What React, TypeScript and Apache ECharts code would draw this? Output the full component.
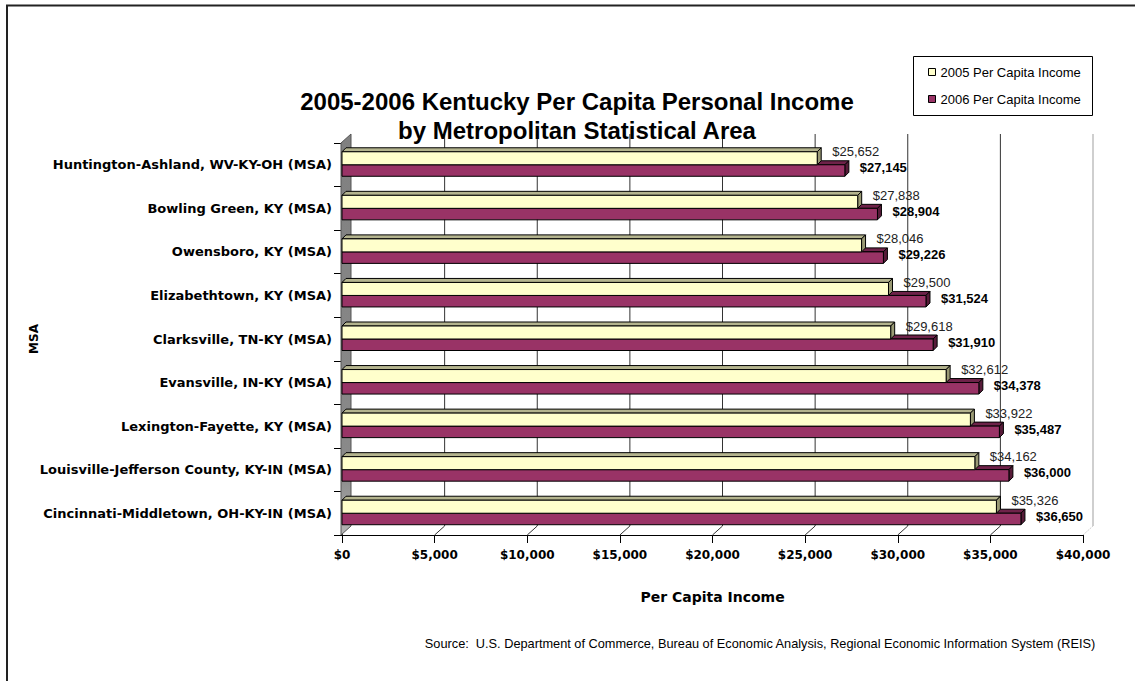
import React, { useEffect, useRef } from "react";
import * as echarts from "echarts";

const categories = [
  "Huntington-Ashland, WV-KY-OH (MSA)",
  "Bowling Green, KY (MSA)",
  "Owensboro, KY (MSA)",
  "Elizabethtown, KY (MSA)",
  "Clarksville, TN-KY (MSA)",
  "Evansville, IN-KY (MSA)",
  "Lexington-Fayette, KY (MSA)",
  "Louisville-Jefferson County, KY-IN (MSA)",
  "Cincinnati-Middletown, OH-KY-IN (MSA)",
];
const income2005 = [25652, 27838, 28046, 29500, 29618, 32612, 33922, 34162, 35326];
const income2006 = [27145, 28904, 29226, 31524, 31910, 34378, 35487, 36000, 36650];
const tickValues = [0, 5000, 10000, 15000, 20000, 25000, 30000, 35000, 40000];

const SERIES_2005 = "2005 Per Capita Income";
const SERIES_2006 = "2006 Per Capita Income";
const TITLE_1 = "2005-2006 Kentucky Per Capita Personal Income";
const TITLE_2 = "by Metropolitan Statistical Area";
const SOURCE =
  "Source:  U.S. Department of Commerce, Bureau of Economic Analysis, Regional Economic Information System (REIS)";

const ARIAL = 'Arial, "Liberation Sans", sans-serif';
const DEJAVU = '"DejaVu Sans", sans-serif';

const DX = 10; // depth of the walls
const DY = 9;
const BD = 4; // depth of bars

const money = (v: number) => "$" + Number(v).toLocaleString("en-US");

function backgroundRender(params: any, api: any) {
  const cs = params.coordSys;
  const T = cs.y;
  const B = cs.y + cs.height;
  const v = api.value(0);
  const x = api.coord([v, 0])[0];
  const children: any[] = [];
  const isLast = v === tickValues[tickValues.length - 1];
  if (v === 0) {
    children.push({
      type: "polygon",
      shape: { points: [[x - 1, T], [x - 1 + DX, T - DY], [x - 1 + DX, B - DY], [x - 1, B]] },
      style: {
        fill: new echarts.graphic.LinearGradient(0, 0, 0, 1, [
          { offset: 0, color: "#808080" },
          { offset: 0.85, color: "#8a8a8a" },
          { offset: 1, color: "#b5b5b5" },
        ]),
        stroke: "#555",
        lineWidth: 1,
      },
    });
  } else {
    children.push({
      type: "line",
      shape: { x1: x + DX, y1: T - DY, x2: x + DX, y2: B - DY },
      style: { stroke: isLast ? "#cfcfcf" : "#333", lineWidth: isLast ? 2 : 1 },
    });
    children.push({
      type: "line",
      shape: { x1: x, y1: B, x2: x + DX, y2: B - DY },
      style: {
        stroke: isLast ? "#cfcfcf" : "#333",
        lineWidth: 1,
        lineDash: isLast ? [2, 1] : null,
      },
    });
  }
  return { type: "group", children };
}

function makeBarRender(is2005: boolean) {
  return (params: any, api: any) => {
    const idx = api.value(1);
    const v = api.value(0);
    const end = api.coord([v, idx]);
    const start = api.coord([0, idx]);
    const c = end[1];
    const x0 = start[0];
    const x1 = end[0];
    const top = is2005 ? c - 13 : c;
    const h = is2005 ? 13 : 11.5;
    const bottom = top + h;
    const front = is2005 ? "#FFFFCC" : "#993366";
    const topFace = is2005 ? "#B4B48E" : "#6E2249";
    const sideFace = is2005 ? "#9A9A74" : "#571B39";
    const stroke = { stroke: "#000", lineWidth: 1 };
    return {
      type: "group",
      children: [
        {
          type: "polygon",
          shape: { points: [[x0, top], [x0 + BD, top - BD], [x1 + BD, top - BD], [x1, top]] },
          style: { fill: topFace, ...stroke },
        },
        {
          type: "polygon",
          shape: { points: [[x1, top], [x1 + BD, top - BD], [x1 + BD, bottom - BD], [x1, bottom]] },
          style: { fill: sideFace, ...stroke },
        },
        {
          type: "rect",
          shape: { x: x0, y: top, width: x1 - x0, height: h },
          style: { fill: front, ...stroke },
        },
        {
          type: "text",
          style: {
            text: money(v),
            x: x1 + 15,
            y: is2005 ? c - 13 : c + 3,
            fill: is2005 ? "#222" : "#000",
            fontSize: 13,
            fontFamily: ARIAL,
            fontWeight: is2005 ? "normal" : "bold",
            align: "left",
            textAlign: "left",
            verticalAlign: "middle",
            textVerticalAlign: "middle",
          },
        },
      ],
    };
  };
}

export default function App() {
  const ref = useRef<HTMLDivElement>(null);
  useEffect(() => {
    if (!ref.current) return;
    const chart = echarts.init(ref.current, undefined, { renderer: "svg" });
    const option: any = {
      animation: false,
      backgroundColor: "#fff",
      grid: { left: 342, right: 52, top: 143, bottom: 146, containLabel: false },
      xAxis: {
        type: "value",
        min: 0,
        max: 40000,
        interval: 5000,
        axisLine: { show: true, lineStyle: { color: "#000", width: 1 } },
        axisTick: { show: true, length: 8, lineStyle: { color: "#000" } },
        splitLine: { show: false },
        axisLabel: {
          margin: 14,
          formatter: (v: number) => money(v),
          color: "#000",
          fontFamily: DEJAVU,
          fontWeight: "bold",
          fontSize: 12,
        },
        name: "Per Capita Income",
        nameLocation: "middle",
        nameGap: 55,
        nameMoveOverlap: false,
        nameTextStyle: { color: "#000", fontFamily: DEJAVU, fontWeight: "bold", fontSize: 14 },
      },
      yAxis: {
        type: "category",
        data: categories,
        inverse: true,
        axisLine: { show: true, lineStyle: { color: "#333", width: 1 } },
        axisTick: { show: true, length: 8, lineStyle: { color: "#000" } },
        splitLine: { show: false },
        axisLabel: {
          margin: 10,
          color: "#000",
          fontFamily: DEJAVU,
          fontWeight: "bold",
          fontSize: 13,
        },
        name: "MSA",
        nameLocation: "middle",
        nameGap: 302,
        nameRotate: 90,
        nameMoveOverlap: false,
        nameTextStyle: {
          color: "#000",
          fontFamily: DEJAVU,
          fontWeight: "bold",
          fontSize: 12,
        },
      },
      legend: {
        data: [SERIES_2005, SERIES_2006],
        orient: "vertical",
        left: 928,
        top: 65,
        padding: 0,
        itemWidth: 7,
        itemHeight: 7,
        itemGap: 13,
        icon: "rect",
        itemStyle: { borderColor: "#000", borderWidth: 1 },
        textStyle: { color: "#000", fontFamily: ARIAL, fontSize: 13, lineHeight: 14 },
        z: 10,
      },
      graphic: [
        {
          type: "rect",
          shape: { x: 7, y: 5.5, width: 1200, height: 700 },
          style: { fill: "none", stroke: "#222", lineWidth: 2 },
          silent: true,
          z: 1,
        },
        {
          type: "rect",
          shape: { x: 913.5, y: 56.5, width: 179, height: 59 },
          style: { fill: "#fff", stroke: "#000", lineWidth: 1 },
          silent: true,
          z: 2,
        },
        {
          type: "text",
          x: 577,
          y: 101,
          style: {
            text: TITLE_1,
            fill: "#000",
            fontFamily: ARIAL,
            fontWeight: "bold",
            fontSize: 24,
            align: "center",
            textAlign: "center",
            verticalAlign: "middle",
            textVerticalAlign: "middle",
          },
          z: 3,
        },
        {
          type: "text",
          x: 577,
          y: 130,
          style: {
            text: TITLE_2,
            fill: "#000",
            fontFamily: ARIAL,
            fontWeight: "bold",
            fontSize: 24,
            align: "center",
            textAlign: "center",
            verticalAlign: "middle",
            textVerticalAlign: "middle",
          },
          z: 3,
        },
        {
          type: "text",
          x: 760,
          y: 643,
          style: {
            text: SOURCE,
            fill: "#000",
            fontFamily: ARIAL,
            fontSize: 12.75,
            align: "center",
            textAlign: "center",
            verticalAlign: "middle",
            textVerticalAlign: "middle",
          },
          z: 3,
        },
      ],
      series: [
        {
          type: "custom",
          name: "background",
          silent: true,
          clip: false,
          z: 1,
          renderItem: backgroundRender,
          encode: { x: 0, y: 1 },
          data: tickValues.map((v) => [v, 0]),
        },
        {
          type: "custom",
          name: SERIES_2006,
          silent: true,
          clip: false,
          z: 2,
          itemStyle: { color: "#993366" },
          renderItem: makeBarRender(false),
          encode: { x: 0, y: 1 },
          data: income2006.map((v, i) => [v, i]),
        },
        {
          type: "custom",
          name: SERIES_2005,
          silent: true,
          clip: false,
          z: 3,
          itemStyle: { color: "#FFFFCC" },
          renderItem: makeBarRender(true),
          encode: { x: 0, y: 1 },
          data: income2005.map((v, i) => [v, i]),
        },
      ],
    };
    chart.setOption(option);
    return () => chart.dispose();
  }, []);
  return (
    <div
      ref={ref}
      style={{ position: "absolute", left: 0, top: 0, width: 1135, height: 681, background: "#fff" }}
    />
  );
}
